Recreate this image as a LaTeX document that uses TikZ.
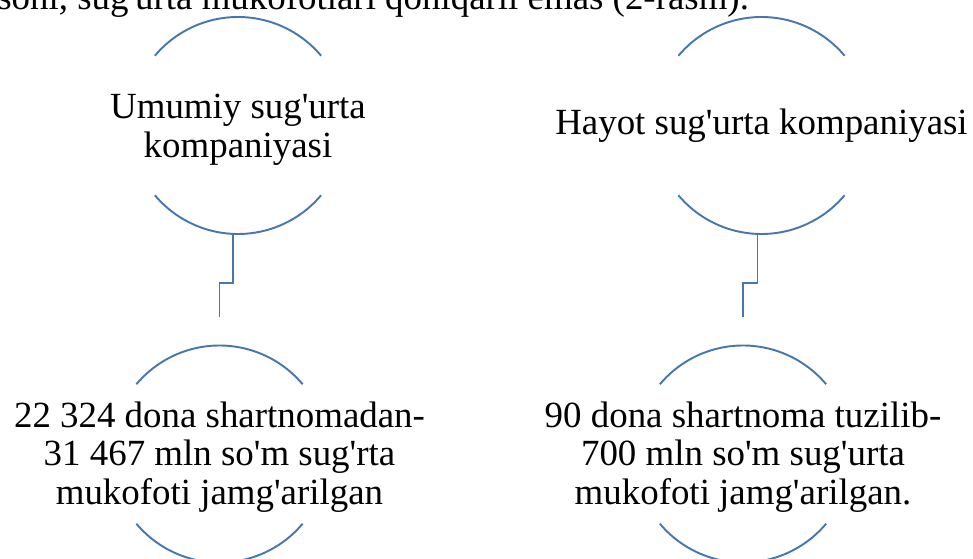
\documentclass[tikz,border=0pt]{standalone}
\usepackage{fontspec}
\setmainfont{Liberation Serif}[Ligatures=TeXOff]
\definecolor{ringblue}{RGB}{70,120,175}
\tikzset{ring/.style={draw=ringblue, line width=1.1pt},
         link/.style={draw=ringblue, line width=1.1pt},
         txt/.style={align=center, inner sep=0pt, font=\fontsize{21}{22}\selectfont}}
\begin{document}
\begin{tikzpicture}[x=0.02cm, y=0.02cm]
  \useasboundingbox (0,0) rectangle (973,558);
  \clip (0,0) rectangle (973,558);
  % line of the page above the picture
  \node[txt, anchor=base west] (line) at (-3,548) {soni, sug'urta mukofotlari qoniqarli emas (2-rasm).};
  \node[txt] (gen) at (238,428.5) {Umumiy sug'urta\\kompaniyasi};
  \node[txt] (life) at (761.5,432.5) {Hayot sug'urta kompaniyasi};
  \node[txt] (res1) at (219.5,101) {22 324 dona shartnomadan-\\31 467 mln so'm sug'rta\\mukofoti jamg'arilgan};
  \node[txt] (res2) at (743,101) {90 dona shartnoma tuzilib-\\700 mln so'm sug'urta\\mukofoti jamg'arilgan.};
  % rings
  \coordinate (c1) at (238,432.5);
  \coordinate (c2) at (761.5,432.5);
  \coordinate (c3) at (219.5,104);
  \coordinate (c4) at (743,104);
  \foreach \n in {c1,c2,c3,c4}
    \draw[ring] (\n) ++(40:108.5) arc[start angle=40, end angle=140, radius=108.5]
                (\n) ++(220:108.5) arc[start angle=220, end angle=320, radius=108.5];
  % links
  \coordinate (e1) at ([yshift=2.75cm]c3);
  \coordinate (e2) at ([yshift=2.75cm]c4);
  \draw[link] ([xshift=-0.1cm,yshift=-2.17cm]c1) -- ++(0,-49) -| (e1);
  \draw[link] ([xshift=-0.08cm,yshift=-2.17cm]c2) -- ++(0,-49) -| (e2);
\end{tikzpicture}
\end{document}
